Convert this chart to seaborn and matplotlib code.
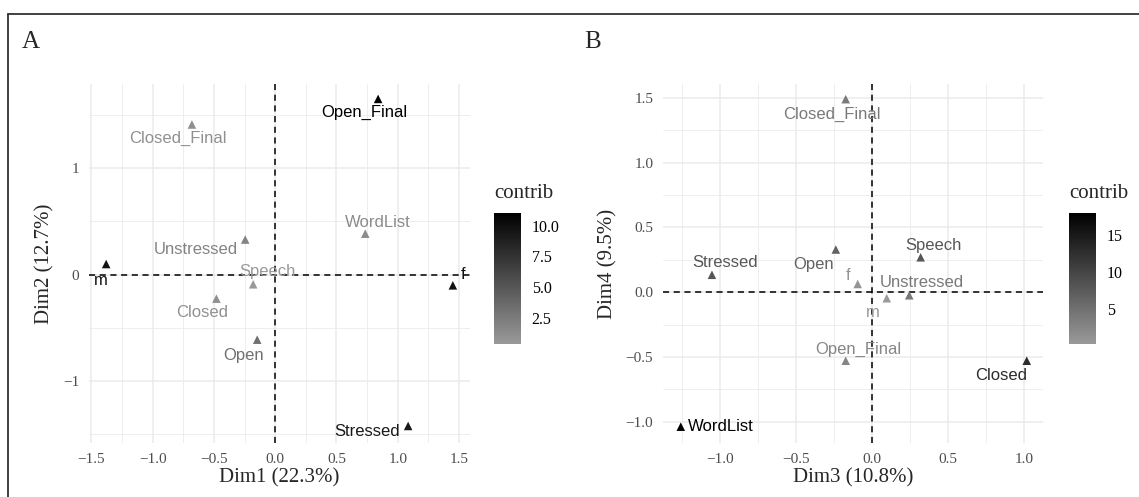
import numpy as np
import pandas as pd
import matplotlib
matplotlib.use("Agg")
import matplotlib.pyplot as plt
from matplotlib.colors import LinearSegmentedColormap, Normalize
from matplotlib.cm import ScalarMappable
from matplotlib.lines import Line2D
import seaborn as sns

# ---------------- data ----------------
categories_a = ["Closed_Final", "Open_Final", "WordList", "Unstressed", "m",
                "Speech", "Closed", "Open", "f", "Stressed"]
dim1 = [-0.68, 0.84, 0.735, -0.245, -1.38, -0.18, -0.48, -0.147, 1.45, 1.085]
dim2 = [1.41, 1.65, 0.385, 0.33, 0.10, -0.09, -0.225, -0.61, -0.10, -1.42]
contrib_a = [1.0, 11.03, 1.4, 1.9, 9.6, 0.36, 1.0, 3.2, 9.8, 9.3]

categories_b = ["Closed_Final", "Stressed", "Open", "f", "Speech", "m",
                "Unstressed", "Open_Final", "Closed", "WordList"]
dim3 = [-0.175, -1.055, -0.24, -0.096, 0.318, 0.095, 0.243, -0.175, 1.016, -1.26]
dim4 = [1.49, 0.135, 0.33, 0.064, 0.27, -0.046, -0.023, -0.528, -0.528, -1.037]
contrib_b = [4.0, 8.0, 6.5, 0.8, 8.0, 0.23, 4.0, 2.5, 13.0, 18.05]

xlabel_a, ylabel_a = "Dim1 (22.3%)", "Dim2 (12.7%)"
xlabel_b, ylabel_b = "Dim3 (10.8%)", "Dim4 (9.5%)"

# label offsets in pixels (dx, dy), styling only
offsets_a = {"Closed_Final": (-14, -14), "Open_Final": (-14, -14), "WordList": (13, 11),
             "Unstressed": (-49, -10), "m": (-5, -16), "Speech": (14, 13),
             "Closed": (-14, -14), "Open": (-14, -16), "f": (10, 11), "Stressed": (-41, -6)}
offsets_b = {"Closed_Final": (-14, -15), "Stressed": (13, 12), "Open": (-22, -15),
             "f": (-10, 8), "Speech": (13, 12), "m": (-14, -14), "Unstressed": (13, 13),
             "Open_Final": (13, 11), "Closed": (-26, -15), "WordList": (40, 0)}

df_a = pd.DataFrame({"cat": categories_a, "x": dim1, "y": dim2, "contrib": contrib_a})
df_b = pd.DataFrame({"cat": categories_b, "x": dim3, "y": dim4, "contrib": contrib_b})

# ---------------- style ----------------
sns.set_style("white")
plt.rcParams["font.family"] = ["Liberation Serif", "DejaVu Serif"]

W, H = 1139, 497
fig = plt.figure(figsize=(W / 100, H / 100), dpi=100)
cmap = LinearSegmentedColormap.from_list("g", ["#999999", "#000000"])

def fx(px):
    return px / W

def fy(py):
    return 1 - py / H

def panel(df, rect, xlim, ylim, xmaj, xlab_ticks, xmin, ymaj, ylab_ticks, ymin,
          xlabel, ylabel, offsets, cb_rect, cb_ticks, cb_labels, title_pos):
    ax = fig.add_axes(rect)
    norm = Normalize(vmin=min(df["contrib"]), vmax=max(df["contrib"]))
    sns.scatterplot(data=df, x="x", y="y", hue="contrib", palette=cmap, hue_norm=norm,
                    marker="^", s=38, linewidth=0, legend=False, ax=ax, zorder=4)
    for _, r in df.iterrows():
        dx, dy = offsets[r["cat"]]
        ax.annotate(r["cat"], (r["x"], r["y"]), xytext=(dx, dy), textcoords="offset pixels",
                    ha="center", va="center", fontsize=12, color=cmap(norm(r["contrib"])),
                    family=["Liberation Sans", "DejaVu Sans"], zorder=5)
    ax.axvline(0, color="black", lw=1.1, ls=(0, (4, 3)), zorder=3)
    ax.axhline(0, color="black", lw=1.1, ls=(0, (4, 3)), zorder=3)
    ax.set_xlim(*xlim)
    ax.set_ylim(*ylim)
    ax.set_xticks(xmaj)
    ax.set_xticklabels(xlab_ticks)
    ax.set_xticks(xmin, minor=True)
    ax.set_yticks(ymaj)
    ax.set_yticklabels(ylab_ticks)
    ax.set_yticks(ymin, minor=True)
    ax.grid(True, which="major", color="#EBEBEB", lw=1.1, zorder=0)
    ax.grid(True, which="minor", color="#EBEBEB", lw=0.6, zorder=0)
    ax.set_axisbelow(True)
    for s in ax.spines.values():
        s.set_visible(False)
    ax.tick_params(which="major", direction="out", length=4, width=1.1, color="#333333",
                   labelsize=11, labelcolor="#4D4D4D", pad=3)
    ax.tick_params(which="minor", length=0)
    ax.set_xlabel(xlabel, fontsize=15, labelpad=2)
    ax.set_ylabel(ylabel, fontsize=15, labelpad=6)

    cax = fig.add_axes(cb_rect)
    cb = fig.colorbar(ScalarMappable(norm=norm, cmap=cmap), cax=cax)
    cb.outline.set_visible(False)
    cb.set_ticks(cb_ticks)
    cb.set_ticklabels(cb_labels)
    cax.tick_params(direction="in", length=5, width=0.8, color="white", labelsize=11.5,
                    labelcolor="black", left=True, right=True, pad=8)
    fig.text(fx(title_pos[0]), fy(title_pos[1]), "contrib", fontsize=15, ha="left", va="center")
    return ax

panel(df_a, [fx(89), fy(443), fx(381), (443 - 84) / H], (-1.52, 1.59), (-1.58, 1.79),
      [-1.5, -1.0, -0.5, 0.0, 0.5, 1.0, 1.5],
      ["\u22121.5", "\u22121.0", "\u22120.5", "0.0", "0.5", "1.0", "1.5"],
      [-1.25, -0.75, -0.25, 0.25, 0.75, 1.25],
      [-1, 0, 1], ["\u22121", "0", "1"], [-1.5, -0.5, 0.5, 1.5],
      xlabel_a, ylabel_a, offsets_a,
      [fx(494), fy(344), 26.5 / W, 131 / H], [2.5, 5.0, 7.5, 10.0],
      ["2.5", "5.0", "7.5", "10.0"], (494, 194))

panel(df_b, [fx(663), fy(443), fx(380), (443 - 84) / H], (-1.377, 1.123), (-1.163, 1.607),
      [-1.0, -0.5, 0.0, 0.5, 1.0],
      ["\u22121.0", "\u22120.5", "0.0", "0.5", "1.0"],
      [-1.25, -0.75, -0.25, 0.25, 0.75],
      [-1.0, -0.5, 0.0, 0.5, 1.0, 1.5],
      ["\u22121.0", "\u22120.5", "0.0", "0.5", "1.0", "1.5"],
      [-0.75, -0.25, 0.25, 0.75, 1.25],
      xlabel_b, ylabel_b, offsets_b,
      [fx(1069), fy(344), 27 / W, 131 / H], [5, 10, 15],
      ["5", "10", "15"], (1069, 194))

fig.text(fx(31), fy(42), "A", fontsize=18, ha="center", va="center")
fig.text(fx(593), fy(42), "B", fontsize=18, ha="center", va="center")

fig.add_artist(Line2D([fx(8), 1.0], [fy(14), fy(14)], color="#333333", lw=1.3,
                      transform=fig.transFigure))
fig.add_artist(Line2D([fx(8), fx(8)], [fy(14), 0.0], color="#333333", lw=1.3,
                      transform=fig.transFigure))

fig.savefig("out.png", dpi=100, facecolor="white")
